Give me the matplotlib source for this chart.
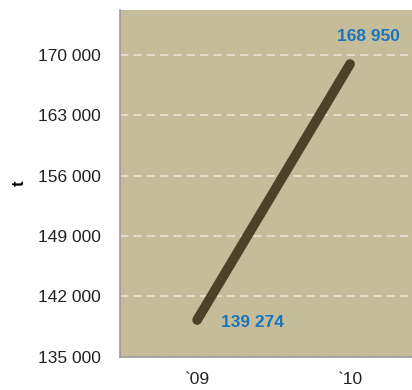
import numpy as np
import matplotlib.pyplot as plt

plt.rcParams['font.family'] = ['Liberation Sans', 'DejaVu Sans']

years = ['`09', '`10']
tonnes = [139274, 168950]
yticks = [135000, 142000, 149000, 156000, 163000, 170000]

fig = plt.figure(figsize=(4.12, 3.90), dpi=100)
ax = fig.add_axes([0.291, 0.085, 0.709, 0.889])
ax.set_facecolor('#c5bd9a')

x = np.arange(len(years))
ax.plot(x, tonnes, color='#4a4328', linewidth=7, solid_capstyle='round', zorder=3)

# value labels next to each end of the line
ax.annotate(f'{tonnes[0]:,}'.replace(',', ' '), (x[0], tonnes[0]), xytext=(40, -2),
            textcoords='offset points', ha='center', va='center',
            color='#1a75c0', fontsize=12.5, fontweight='bold')
ax.annotate(f'{tonnes[1]:,}'.replace(',', ' '), (x[1], tonnes[1]), xytext=(13, 20),
            textcoords='offset points', ha='center', va='center',
            color='#1a75c0', fontsize=12.5, fontweight='bold')

ax.set_xlim(-0.505, 1.405)
ax.set_ylim(135000, 175200)
ax.set_xticks(x)
ax.set_xticklabels(years)
ax.set_yticks(yticks)
ax.set_yticklabels([f'{v:,}'.replace(',', ' ') for v in yticks])
ax.tick_params(length=0, labelsize=12.5, labelcolor='#222222')
ax.tick_params(axis='x', pad=11)
ax.tick_params(axis='y', pad=14)

ax.yaxis.grid(True, color='#e8e4d4', linestyle=(0, (5, 3)), linewidth=1.2)
ax.set_axisbelow(True)

for side in ['top', 'right']:
    ax.spines[side].set_visible(False)
for side in ['left', 'bottom']:
    ax.spines[side].set_color('#999999')
    ax.spines[side].set_linewidth(1.2)

ax.set_ylabel('t', fontsize=12, fontweight='bold', labelpad=8)

fig.savefig('out.png', dpi=100)
